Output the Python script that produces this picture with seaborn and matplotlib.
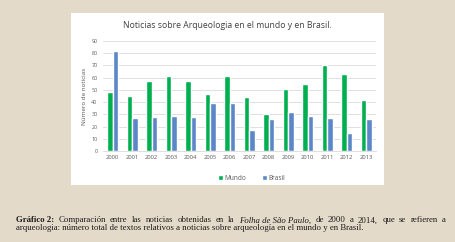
import numpy as np
import pandas as pd
import matplotlib
matplotlib.use("Agg")
import matplotlib.pyplot as plt
from matplotlib.patches import Rectangle
import seaborn as sns

years = [str(y) for y in range(2000, 2014)]
mundo = [48, 45, 57, 61, 57, 47, 61, 44, 30, 51, 55, 70, 63, 42]
brasil = [82, 27, 28, 29, 28, 39, 39, 17, 26, 32, 29, 27, 15, 26]
series_names = ["Mundo", "Brasil"]
colors = ["#00b050", "#5b87c9"]
title = "Noticias sobre Arqueologia en el mundo y en Brasil."
ylabel = "Número de noticias"

df = pd.DataFrame({
    "year": years * 2,
    "value": mundo + brasil,
    "serie": ["Mundo"] * len(years) + ["Brasil"] * len(years),
})

sns.set_style("white")
plt.rcParams["font.family"] = ["Open Sans", "DejaVu Sans"]

W, H = 456, 242
fig = plt.figure(figsize=(W / 100, H / 100), dpi=100)
fig.patch.set_facecolor("#e4dac9")

# white chart frame
fig.patches.append(Rectangle((71 / W, 1 - 185 / H), (384 - 71) / W, (185 - 13) / H,
                             transform=fig.transFigure, facecolor="white",
                             edgecolor="none", zorder=-5))

ax = fig.add_axes([103 / W, 1 - 151 / H, (376 - 103) / W, (151 - 41) / H])
ax.set_zorder(2)
sns.barplot(data=df, x="year", y="value", hue="serie", hue_order=series_names,
            palette=colors, width=0.58, gap=0.08, saturation=1, ax=ax, zorder=3)
ax.set_facecolor("white")
ax.set_xlim(-0.5, len(years) - 0.5)
ax.set_ylim(0, 90)
ax.set_yticks(range(0, 91, 10))
ax.grid(axis="y", color="#d9d9d9", linewidth=0.6, zorder=0)
ax.set_axisbelow(True)
for s in ["top", "right", "left"]:
    ax.spines[s].set_visible(False)
ax.spines["bottom"].set_color("#d9d9d9")
ax.spines["bottom"].set_linewidth(0.6)
ax.tick_params(axis="x", which="major", length=0, labelsize=4.2, colors="#595959", pad=3)
ax.tick_params(axis="y", which="major", length=0, labelsize=3.9, colors="#595959", pad=4)
ax.set_xticks(np.arange(-0.5, len(years), 1), minor=True)
ax.tick_params(axis="x", which="minor", length=3, color="#d9d9d9", width=0.6)
ax.set_xlabel("")
ax.set_ylabel(ylabel, fontsize=4.5, color="#595959", labelpad=3)

leg = ax.legend(loc="upper center", bbox_to_anchor=(0.545, -0.165), ncol=2, frameon=False,
                fontsize=4.7, handlelength=0.8, handleheight=0.8, columnspacing=2.4,
                handletextpad=0.2, labelcolor="#595959")

fig.text(227 / W, 1 - 26 / H, title, ha="center", va="center", fontsize=6.2, color="#404040")

# caption
cap_font = ["Liberation Serif", "DejaVu Serif"]
y1 = 1 - 222.5 / H
y2 = 1 - 230 / H
fs = 6.3
parts = [
    ("Gráfico 2:", "bold", "normal"),
    ("Comparación", "normal", "normal"),
    ("entre", "normal", "normal"),
    ("las", "normal", "normal"),
    ("noticias", "normal", "normal"),
    ("obtenidas", "normal", "normal"),
    ("en", "normal", "normal"),
    ("la", "normal", "normal"),
    ("Folha de São Paulo,", "normal", "italic"),
    ("de", "normal", "normal"),
    ("2000", "normal", "normal"),
    ("a", "normal", "normal"),
    ("2014,", "normal", "normal"),
    ("que", "normal", "normal"),
    ("se", "normal", "normal"),
    ("refieren", "normal", "normal"),
    ("a", "normal", "normal"),
]
renderer = fig.canvas.get_renderer()
texts = []
total = 0
for txt, wt, st in parts:
    tt = fig.text(0, y1, txt, fontsize=fs, fontweight=wt, fontstyle=st, family=cap_font,
                  color="#1a1a1a", va="baseline")
    texts.append(tt)
    total += tt.get_window_extent(renderer=renderer).width
gap = (446 - 16 - total) / (len(parts) - 1)
x = 16
for tt in texts:
    tt.set_x(x / W)
    x += tt.get_window_extent(renderer=renderer).width + gap
fig.text(16 / W, y2, "arqueologia: número total de textos relativos a noticias sobre arqueología en el mundo y en Brasil.",
         fontsize=fs, family=cap_font, color="#1a1a1a", va="baseline")

fig.savefig("out.png", dpi=100, facecolor=fig.get_facecolor())
